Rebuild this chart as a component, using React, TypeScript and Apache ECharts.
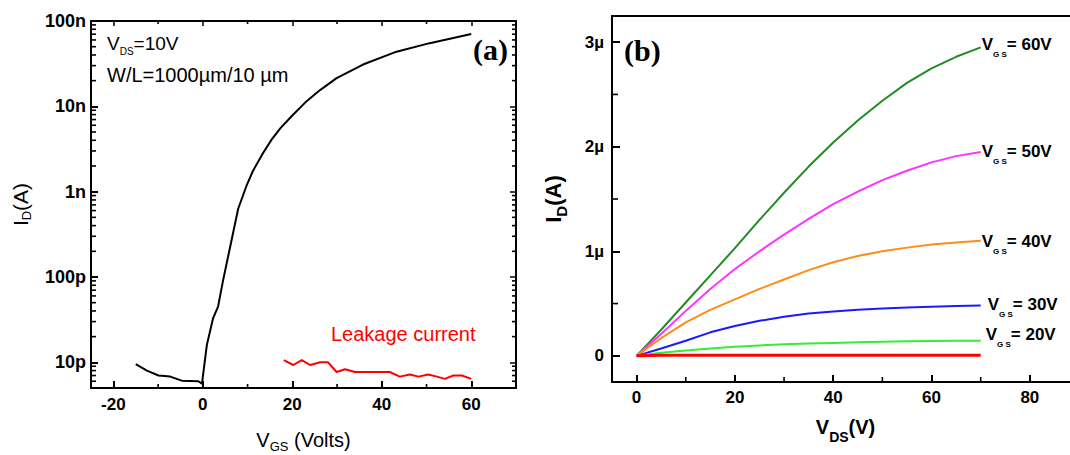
import React, { useEffect, useRef } from 'react';
import * as echarts from 'echarts';

// ---------- Panel (a): transfer curve ----------
const vgsTransfer = [-15, -12.5, -9.9, -7.3, -4.7, -1, -0.2, 0.9, 2.3, 3.4, 4.5, 6.1, 7.9, 9.7, 11.2, 13.4, 15.4, 17.4, 20, 23.2, 26.2, 29.9, 35.8, 43.3, 50.7, 60];
const idTransfer = [9.5e-12, 8.0e-12, 7.0e-12, 6.8e-12, 6.1e-12, 6.0e-12, 5.6e-12, 16e-12, 33e-12, 45e-12, 90e-12, 225e-12, 630e-12, 1.15e-9, 1.75e-9, 2.8e-9, 4.1e-9, 5.6e-9, 7.8e-9, 11.5e-9, 15.5e-9, 21.4e-9, 30.9e-9, 43.7e-9, 55e-9, 70.5e-9];
const vgsLeak = [18.1, 20.2, 22.1, 24, 26.2, 28, 29.9, 31.8, 34, 41.8, 44, 46.3, 48.2, 50.4, 52.3, 54.1, 56, 57.9, 60];
const idLeak = [10.6e-12, 9.3e-12, 10.6e-12, 9.3e-12, 10e-12, 10e-12, 7.7e-12, 8.3e-12, 7.7e-12, 7.7e-12, 6.8e-12, 7.2e-12, 6.8e-12, 7.2e-12, 6.8e-12, 6.4e-12, 7.0e-12, 7.0e-12, 6.4e-12];
const logTickLabels: Record<string, string> = { '-11': '10p', '-10': '100p', '-9': '1n', '-8': '10n', '-7': '100n' };
const leftXMinor = [-10, 10, 30, 50];
const logDecades = [-12, -11, -10, -9, -8];
const logMantissas = [2, 3, 4, 5, 6, 7, 8, 9];

// ---------- Panel (b): output curves (µA) ----------
const vdsOutput = [0, 5, 10, 15, 20, 25, 30, 35, 40, 45, 50, 55, 60, 65, 70];
const id60 = [0, 0.25, 0.51, 0.77, 1.03, 1.30, 1.56, 1.81, 2.04, 2.25, 2.44, 2.61, 2.75, 2.86, 2.95];
const id50 = [0, 0.21, 0.43, 0.64, 0.83, 1.0, 1.16, 1.31, 1.45, 1.57, 1.68, 1.77, 1.85, 1.91, 1.95];
const id40 = [0, 0.17, 0.32, 0.44, 0.54, 0.64, 0.73, 0.82, 0.895, 0.955, 1.0, 1.035, 1.065, 1.085, 1.10];
const id30 = [0, 0.07, 0.145, 0.225, 0.285, 0.335, 0.375, 0.405, 0.425, 0.44, 0.452, 0.462, 0.47, 0.477, 0.482];
const id20 = [0, 0.03, 0.052, 0.07, 0.088, 0.10, 0.11, 0.118, 0.124, 0.13, 0.135, 0.139, 0.142, 0.144, 0.145];
const id10 = [0, 0.005, 0.005, 0.005, 0.005, 0.005, 0.005, 0.005, 0.005, 0.005, 0.005, 0.005, 0.005, 0.005, 0.005];
const rightXMinor = [10, 30, 50, 70];
const rightYMinor = [0.5, 1.5, 2.5];

const FONT = '"Liberation Sans", Arial, sans-serif';
const SERIF = '"Liberation Serif", "Times New Roman", serif';

const L_XMIN = -25, L_XMAX = 70, L_YMIN = 5e-12, L_YMAX = 1e-7;
const R_XMIN = -5, R_XMAX = 90, R_YMIN = -0.25, R_YMAX = 3.25;

function pairs(xs: number[], ys: number[]) {
  return xs.map((x, i) => [x, ys[i]]);
}

export default function App() {
  const ref = useRef<HTMLDivElement>(null);
  useEffect(() => {
    if (!ref.current) return;
    const chart = echarts.init(ref.current, undefined, { renderer: 'svg' });

    const logMinor: number[] = [];
    logDecades.forEach((d) => logMantissas.forEach((m) => {
      const v = m * Math.pow(10, d);
      if (v > L_YMIN * 1.01 && v < L_YMAX) logMinor.push(v);
    }));

    const axisLine = { show: true, onZero: false, lineStyle: { color: '#000', width: 2 } };
    const tickLabel = { color: '#000', fontSize: 17, fontWeight: 'bold', fontFamily: FONT };
    const majorTick = (len: number, w: number) => ({ show: true, inside: true, length: len, lineStyle: { width: w, color: '#000', opacity: 1 } });

    const richL = (main: number, sub: number, lh: number, bold: boolean) => ({
      v: { fontSize: main, fontFamily: FONT, fontWeight: bold ? 'bold' : 'normal', color: '#000', fill: '#000', lineHeight: lh },
      s: { fontSize: sub, fontFamily: FONT, fontWeight: bold ? 'bold' : 'normal', color: '#000', fill: '#000', lineHeight: sub, verticalAlign: 'bottom' },
    });

    const curveRich = {
      v: { fontSize: 17, fontFamily: FONT, fontWeight: 'bold', color: '#000', lineHeight: 28 },
      s: { fontSize: 8, fontFamily: FONT, fontWeight: 'bold', color: '#000', lineHeight: 8, verticalAlign: 'bottom' },
    };

    const outSeries = [
      { data: id60, color: '#228b22', label: '= 60V', offset: [0, -3] },
      { data: id50, color: '#ff33ff', label: '= 50V', offset: [0, 0] },
      { data: id40, color: '#ff8c1a', label: '= 40V', offset: [0, 1] },
      { data: id30, color: '#1a1aff', label: '= 30V', offset: [6, -1] },
      { data: id20, color: '#33ee33', label: '= 20V', offset: [4, -6] },
    ].map((s) => ({
      type: 'line',
      xAxisIndex: 2,
      yAxisIndex: 2,
      data: pairs(vdsOutput, s.data),
      showSymbol: false,
      symbol: 'none',
      lineStyle: { color: s.color, width: 2 },
      itemStyle: { color: s.color },
      endLabel: {
        show: true,
        distance: 1,
        offset: s.offset,
        formatter: '{v|V}{s|G S}{v|' + s.label + '}',
        rich: curveRich,
      },
    }));

    const texts: any[] = [
      {
        type: 'text', x: 107, y: 43,
        style: {
          text: '{v|V}{s|DS}{v|=10V}', verticalAlign: 'middle', align: 'left',
          rich: {
            v: { fontSize: 19, fontFamily: FONT, fill: '#000', lineHeight: 26 },
            s: { fontSize: 10, fontFamily: FONT, fill: '#000', lineHeight: 10, verticalAlign: 'bottom' },
          },
        },
      },
      {
        type: 'text', x: 107, y: 75,
        style: { text: 'W/L=1000µm/10 µm', fontSize: 20, fontFamily: FONT, fill: '#000', verticalAlign: 'middle', align: 'left' },
      },
      {
        type: 'text', x: 508, y: 49,
        style: { text: '(a)', fontSize: 30, fontWeight: 'bold', fontFamily: SERIF, fill: '#000', verticalAlign: 'middle', align: 'right' },
      },
      {
        type: 'text', x: 331, y: 334,
        style: { text: 'Leakage current', fontSize: 20, fontFamily: FONT, fill: '#ff0000', verticalAlign: 'middle', align: 'left' },
      },
      {
        type: 'text', x: 624, y: 50,
        style: { text: '(b)', fontSize: 30, fontWeight: 'bold', fontFamily: SERIF, fill: '#000', verticalAlign: 'middle', align: 'left' },
      },
    ];

    const option: any = {
      animation: false,
      backgroundColor: '#fff',
      textStyle: { fontFamily: FONT },
      grid: [
        { left: 91, top: 21, width: 425, height: 367, containLabel: false, outerBoundsMode: 'none' },
        { left: 612, top: 16, width: 467, height: 366, containLabel: false, outerBoundsMode: 'none' },
      ],
      xAxis: [
        {
          gridIndex: 0, type: 'value', min: L_XMIN, max: L_XMAX, splitNumber: 5, position: 'bottom',
          axisLine, axisTick: majorTick(7, 2),
          axisLabel: { ...tickLabel, margin: 8, formatter: (v: number) => (v % 20 === 0 ? String(v) : '') },
          splitLine: { show: false },
          name: '{v|V}{s|GS}{v| (Volts)}', nameLocation: 'middle', nameGap: 39, nameMoveOverlap: false,
          nameTextStyle: { rich: richL(20, 13, 26, false) },
        },
        {
          gridIndex: 0, type: 'value', min: L_XMIN, max: L_XMAX, splitNumber: 5, position: 'top',
          axisLine, axisTick: majorTick(5, 1.5),
          axisLabel: { show: false }, splitLine: { show: false },
        },
        {
          gridIndex: 1, type: 'value', min: R_XMIN, max: R_XMAX, splitNumber: 5, position: 'bottom',
          axisLine, axisTick: majorTick(7, 2),
          axisLabel: { ...tickLabel, margin: 7, formatter: (v: number) => (v % 20 === 0 ? String(v) : '') },
          splitLine: { show: false },
          name: '{v|V}{s|DS}{v|(V)}', nameLocation: 'middle', nameGap: 28, nameMoveOverlap: false,
          nameTextStyle: { rich: richL(20, 14, 34, true) },
        },
        {
          gridIndex: 1, type: 'value', min: R_XMIN, max: R_XMAX, splitNumber: 5, position: 'top',
          axisLine, axisTick: { show: false }, axisLabel: { show: false }, splitLine: { show: false },
        },
      ],
      yAxis: [
        {
          gridIndex: 0, type: 'log', logBase: 10, min: L_YMIN, max: L_YMAX, splitNumber: 5, position: 'left',
          axisLine, axisTick: majorTick(7, 2),
          axisLabel: {
            ...tickLabel, fontSize: 18, margin: 5,
            formatter: (v: number) => {
              const e = Math.log10(v);
              const r = Math.round(e);
              return Math.abs(e - r) < 1e-6 ? (logTickLabels[String(r)] || '') : '';
            },
          },
          splitLine: { show: false }, minorTick: { show: false },
          name: '{v|I}{s|D}{v|(A)}', nameLocation: 'middle', nameGap: 58, nameRotate: 90, nameMoveOverlap: false,
          nameTextStyle: { rich: richL(21, 13, 25, false) },
        },
        {
          gridIndex: 0, type: 'log', logBase: 10, min: L_YMIN, max: L_YMAX, splitNumber: 5, position: 'right',
          axisLine, axisTick: majorTick(6, 1.5),
          axisLabel: { show: false }, splitLine: { show: false },
        },
        {
          gridIndex: 1, type: 'value', min: R_YMIN, max: R_YMAX, splitNumber: 4, position: 'left',
          axisLine, axisTick: majorTick(8, 2),
          axisLabel: {
            ...tickLabel, margin: 8,
            formatter: (v: number) => (Number.isInteger(v) ? (v === 0 ? '0' : v + 'µ') : ''),
          },
          splitLine: { show: false },
          name: '{v|I}{s|D}{v|(A)}', nameLocation: 'middle', nameGap: 43, nameRotate: 90, nameMoveOverlap: false,
          nameTextStyle: { rich: richL(22, 15, 31, true) },
        },
      ],
      series: [
        {
          type: 'line', xAxisIndex: 0, yAxisIndex: 0, data: pairs(vgsTransfer, idTransfer),
          showSymbol: false, symbol: 'none', lineStyle: { color: '#000', width: 2 }, itemStyle: { color: '#000' },
        },
        {
          type: 'line', xAxisIndex: 0, yAxisIndex: 0, data: pairs(vgsLeak, idLeak),
          showSymbol: false, symbol: 'none', lineStyle: { color: '#ff0000', width: 2 }, itemStyle: { color: '#ff0000' },
        },
        ...outSeries,
        {
          type: 'line', xAxisIndex: 2, yAxisIndex: 2, data: pairs(vdsOutput, id10),
          showSymbol: false, symbol: 'none', lineStyle: { color: '#ff0000', width: 3 }, itemStyle: { color: '#ff0000' },
        },
      ],
    };

    chart.setOption(option);

    // Minor ticks, placed through the axes' own scales.
    const ticks: any[] = [];
    const seg = (x1: number, y1: number, x2: number, y2: number) =>
      ticks.push({
        type: 'line', silent: true, z: 100,
        shape: { x1, y1, x2, y2 },
        style: { stroke: '#000', lineWidth: 1.6 },
      });
    const toPx = (finder: any, v: number): number => {
      const r: any = chart.convertToPixel(finder, v);
      return Array.isArray(r) ? r[0] : r;
    };
    const px = (axis: number, v: number) => toPx({ xAxisIndex: axis }, v);
    const py = (axis: number, v: number) => toPx({ yAxisIndex: axis }, v);

    const lBottom = py(0, L_YMIN), lTop = py(0, L_YMAX);
    const lLeft = px(0, L_XMIN), lRight = px(0, L_XMAX);
    leftXMinor.forEach((v) => {
      const x = px(0, v);
      seg(x, lBottom, x, lBottom - 4);
      seg(x, lTop, x, lTop + 3);
    });
    logMinor.forEach((v) => {
      const y = py(0, v);
      seg(lLeft, y, lLeft + 5, y);
      seg(lRight, y, lRight - 4, y);
    });
    const rBottom = py(2, R_YMIN), rLeft = px(2, R_XMIN);
    rightXMinor.forEach((v) => {
      const x = px(2, v);
      seg(x, rBottom, x, rBottom - 5);
    });
    rightYMinor.forEach((v) => {
      const y = py(2, v);
      seg(rLeft, y, rLeft + 6, y);
    });

    chart.setOption({ graphic: [...texts, ...ticks] });
    return () => chart.dispose();
  }, []);

  return (
    <div
      ref={ref}
      style={{ position: 'fixed', left: 0, top: 0, width: 1070, height: 455, background: '#fff' }}
    />
  );
}
